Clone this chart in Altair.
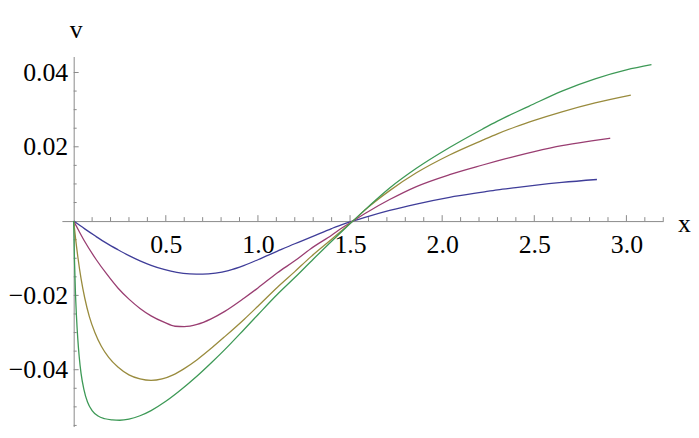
import altair as alt
import pandas as pd

# ---------------- data ----------------
series_names = ["c1", "c2", "c3", "c4"]
series_colors = ["#3F3D99", "#993D71", "#998B3D", "#3D9956"]

blue_x = [0, 0.06, 0.12, 0.18, 0.24, 0.3, 0.36, 0.42, 0.49, 0.56, 0.63, 0.7, 0.77, 0.84, 0.926, 1.0,
          1.106, 1.2, 1.285, 1.4, 1.464, 1.515, 1.6, 1.715, 1.86, 2.04, 2.22, 2.3, 2.4, 2.5, 2.65, 2.84]
blue_v = [0, -0.0021, -0.0041, -0.0060, -0.0077, -0.0093, -0.0107, -0.0119, -0.0130, -0.0138, -0.0142,
          -0.0143, -0.0140, -0.0133, -0.0119, -0.0104, -0.0081, -0.0061, -0.0044, -0.0020, -0.0008, 0,
          0.0013, 0.0029, 0.0046, 0.0064, 0.0078, 0.0084, 0.0090, 0.0096, 0.0104, 0.0112]

purple_x = [0, 0.03, 0.06, 0.12, 0.18, 0.24, 0.3, 0.36, 0.42, 0.49, 0.55, 0.6, 0.67, 0.746, 0.82, 0.926,
            1.0, 1.106, 1.2, 1.285, 1.4, 1.464, 1.515, 1.6, 1.715, 1.86, 2.04, 2.22, 2.3, 2.4, 2.5,
            2.65, 2.83, 2.912]
purple_v = [0, -0.0028, -0.0055, -0.0102, -0.0143, -0.0180, -0.0210, -0.0235, -0.0255, -0.0272, -0.0283,
            -0.0284, -0.0278, -0.0263, -0.0243, -0.0207, -0.0180, -0.0139, -0.0107, -0.0075, -0.0038,
            -0.0016, 0, 0.0026, 0.0058, 0.0093, 0.0125, 0.0151, 0.0162, 0.0175, 0.0187, 0.0203,
            0.0217, 0.0223]

gold_x = [0, 0.01, 0.023, 0.04, 0.06, 0.085, 0.115, 0.15, 0.19, 0.24, 0.3, 0.36, 0.42, 0.48, 0.54,
          0.6, 0.67, 0.75, 0.82, 0.926, 1.0, 1.106, 1.2, 1.285, 1.4, 1.464, 1.515, 1.6, 1.715, 1.86,
          2.04, 2.22, 2.3, 2.4, 2.5, 2.65, 2.83, 3.024]
gold_v = [0, -0.0046, -0.0098, -0.0155, -0.0207, -0.0257, -0.0300, -0.0337, -0.0367, -0.0393, -0.0414,
          -0.0425, -0.0429, -0.0425, -0.0414, -0.0397, -0.0373, -0.0341, -0.0311, -0.0264, -0.0229,
          -0.0178, -0.0136, -0.0097, -0.0049, -0.0022, 0, 0.0038, 0.0082, 0.0130, 0.0178, 0.0218,
          0.0235, 0.0254, 0.0271, 0.0294, 0.0318, 0.0339]

green_x = [0, 0.004, 0.009, 0.015, 0.022, 0.03, 0.04, 0.055, 0.075, 0.1, 0.13, 0.17, 0.21, 0.25, 0.3,
           0.36, 0.42, 0.5, 0.567, 0.67, 0.75, 0.82, 0.926, 1.0, 1.106, 1.2, 1.285, 1.4, 1.464, 1.515,
           1.6, 1.715, 1.86, 2.04, 2.22, 2.3, 2.4, 2.47, 2.65, 2.83, 3.0, 3.136]
green_v = [0, -0.0100, -0.0185, -0.0255, -0.0315, -0.0365, -0.0410, -0.0452, -0.0487, -0.0510, -0.0524,
           -0.0532, -0.0535, -0.0536, -0.0533, -0.0524, -0.0510, -0.0485, -0.0460, -0.0417, -0.0380,
           -0.0346, -0.0291, -0.0252, -0.0197, -0.0152, -0.0110, -0.0054, -0.0024, 0,
           0.0039, 0.0089, 0.0142, 0.0198, 0.0248, 0.0269, 0.0293, 0.0309, 0.0350, 0.0383, 0.0407,
           0.0421]

x_label_values = [0.5, 1.0, 1.5, 2.0, 2.5, 3.0]
y_label_values = [-0.04, -0.02, 0.02, 0.04]
x_minor_ticks = [round(0.1 * i, 1) for i in range(1, 33) if i % 5 != 0]
x_major_ticks = x_label_values
y_minor_ticks = [round(0.005 * i, 3) for i in range(-11, 9) if i != 0 and i % 4 != 0]
y_major_ticks = y_label_values

# ---------------- tables ----------------
rows = []
for name, xs, vs in zip(series_names, [blue_x, purple_x, gold_x, green_x],
                        [blue_v, purple_v, gold_v, green_v]):
    for xv, vv in zip(xs, vs):
        rows.append({"series": name, "x": xv, "v": vv})
df = pd.DataFrame(rows)

xt_minor = pd.DataFrame({"x": x_minor_ticks, "v": [0.0] * len(x_minor_ticks)})
xt_major = pd.DataFrame({"x": x_major_ticks, "v": [0.0] * len(x_major_ticks)})
yt_minor = pd.DataFrame({"x": [0.0] * len(y_minor_ticks), "v": y_minor_ticks})
yt_major = pd.DataFrame({"x": [0.0] * len(y_major_ticks), "v": y_major_ticks})

# ---------------- layout ----------------
X_DOMAIN = [-0.064, 3.2]
Y_DOMAIN = [-0.0553, 0.0443]
W, H = 607, 373.5
x_axis_offset = -H * (0 - Y_DOMAIN[0]) / (Y_DOMAIN[1] - Y_DOMAIN[0])
y_axis_offset = -W * (0 - X_DOMAIN[0]) / (X_DOMAIN[1] - X_DOMAIN[0])

FONT = "Liberation Serif"
AX_COLOR = "#8a8a8a"

xscale = alt.Scale(domain=X_DOMAIN, nice=False, zero=False)
yscale = alt.Scale(domain=Y_DOMAIN, nice=False, zero=False)

X = alt.X("x:Q", scale=xscale, axis=alt.Axis(
    orient="bottom", offset=x_axis_offset, values=x_label_values, format=".1f",
    ticks=False, tickSize=0, labelPadding=11, labelFont=FONT, labelFontSize=26,
    labelColor="black", labelOverlap=False, labelFlush=False,
    domainColor=AX_COLOR, domainWidth=1, grid=False,
    title="x", titleFont=FONT, titleFontSize=26, titleFontWeight="normal",
    titleColor="black", titleX=W + 21, titleY=2, titleAlign="center",
    titleBaseline="middle", titleAngle=0))
Y = alt.Y("v:Q", scale=yscale, axis=alt.Axis(
    orient="left", offset=y_axis_offset, values=y_label_values, format=".2f",
    ticks=False, tickSize=0, labelPadding=6, labelFont=FONT, labelFontSize=26,
    labelColor="black", labelOverlap=False, labelFlush=False,
    domainColor=AX_COLOR, domainWidth=1, grid=False,
    title="v", titleFont=FONT, titleFontSize=26, titleFontWeight="normal",
    titleColor="black", titleX=2, titleY=-27, titleAlign="center",
    titleBaseline="middle", titleAngle=0))

lines = alt.Chart(df).mark_line(strokeWidth=1.3, interpolate="monotone").encode(
    x=X, y=Y,
    color=alt.Color("series:N", scale=alt.Scale(domain=series_names, range=series_colors), legend=None),
    detail="series:N",
)

xtm = alt.Chart(xt_minor).mark_rule(color=AX_COLOR, strokeWidth=1, y2Offset=-4).encode(x=X, y=Y, y2="v:Q")
xtM = alt.Chart(xt_major).mark_rule(color=AX_COLOR, strokeWidth=1, y2Offset=-6).encode(x=X, y=Y, y2="v:Q")
ytm = alt.Chart(yt_minor).mark_rule(color=AX_COLOR, strokeWidth=1, x2Offset=3).encode(x=X, x2="x:Q", y=Y)
ytM = alt.Chart(yt_major).mark_rule(color=AX_COLOR, strokeWidth=1, x2Offset=5).encode(x=X, x2="x:Q", y=Y)

chart = alt.layer(xtm, xtM, ytm, ytM, lines).properties(
    width=W, height=H,
    autosize=alt.AutoSizeParams(type="none"),
    padding={"left": 54.4, "top": 47, "right": 28, "bottom": 0},
    background="white",
).configure_view(strokeWidth=0)

chart.save("out.html", embed_options={"renderer": "svg", "actions": False})
